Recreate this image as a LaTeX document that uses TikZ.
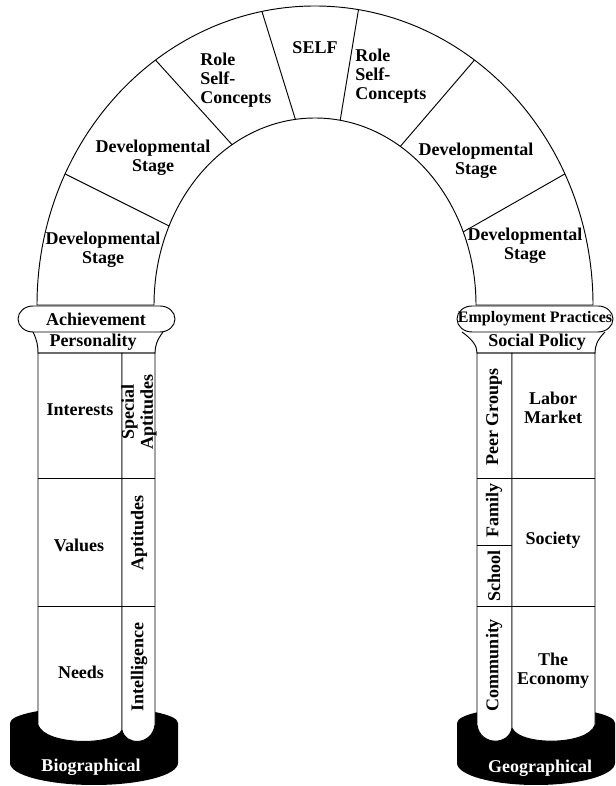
\documentclass[tikz,border=0pt]{standalone}
\usepackage{fontspec}
\setmainfont{Liberation Serif}
\usepackage{tikz}

\begin{document}
\begin{tikzpicture}[x=1pt,y=1pt,line width=0.95pt,
txt/.style={font=\bfseries\fontsize{18}{19}\selectfont,align=center,inner sep=0pt},
vtxt/.style={txt,rotate=90},
cell/.style={fill=white,draw=black}]
\useasboundingbox(0,0)rectangle(615,786);
\fill(10,63)arc[start angle=180,end angle=0,x radius=84,y radius=16]--(178,23)arc[start angle=0,end angle=-180,x radius=84,y radius=22]--cycle;
\fill(457,63)arc[start angle=180,end angle=0,x radius=79,y radius=16]--(615,23)arc[start angle=0,end angle=-180,x radius=79,y radius=22]--cycle;
\filldraw[cell](38,433)--(38,61)..controls(45,40)and(115,40)..(122,56)--(122,433)--cycle;
\filldraw[cell](122,433)--(122,56)..controls(125,40)and(152,40)..(155,61)--(155,433)--cycle;
\filldraw[cell](477,433)--(477,61)..controls(480,40)and(509,40)..(512,58)--(512,433)--cycle;
\filldraw[cell](512,433)--(512,58)..controls(519,40)and(588,40)..(595,61)--(595,433)--cycle;
\draw(38,308)--(155,308)(38,180)--(155,180);
\draw(477,308)--(595,308)(477,241)--(512,241)(477,180)--(595,180);
\draw(33,454)..controls(37,446)and(38,440)..(38,433)--(155,433)..controls(155,440)and(157,446)..(163,454);
\draw(462,454)..controls(473,446)and(477,440)..(477,433)--(595,433)..controls(595,440)and(597,446)..(605,454);
\draw(33,480)--(160,480)arc[start angle=90,end angle=-90,x radius=15,y radius=13]--(33,454)arc[start angle=270,end angle=90,x radius=15,y radius=13]--cycle;
\draw(472,480)--(598,480)arc[start angle=90,end angle=-90,x radius=15,y radius=13]--(472,454)arc[start angle=270,end angle=90,x radius=15,y radius=13]--cycle;
\begin{scope}[shift={(315,481)}]
\draw(-278,0)arc[start angle=180,end angle=0,x radius=278,y radius=299]--(161,0)arc[start angle=0,end angle=180,x radius=161,y radius=187]--cycle;
\draw(154:278 and 299)--(155:161 and 187)
(125:278 and 299)--(121:161 and 187)
(101:278 and 299)--(97:161 and 187)
(81:278 and 299)--(81:161 and 187)
(55:278 and 299)--(58:161 and 187)
(26:278 and 299)--(23:161 and 187);
\end{scope}
\node[txt](dev1)at(103,536){Developmental\\Stage};
\node[txt](dev2)at(153,628){Developmental\\Stage};
\node[txt,anchor=west,align=left](role1)at(200,706){Role\\Self-\\Concepts};
\node[txt](self)at(315,738){SELF};
\node[txt,anchor=west,align=left](role2)at(355,710){Role\\Self-\\Concepts};
\node[txt](dev3)at(476,625){Developmental\\Stage};
\node[txt](dev4)at(525,540){Developmental\\Stage};
\node[txt](achv)at(96,467){Achievement};
\node[txt,font=\bfseries\fontsize{16}{16}\selectfont](empl)at(535,467){Employment Practices};
\node[txt](pers)at(93,444){Personality};
\node[txt](socp)at(537,444){Social Policy};
\node[txt](intr)at(80,376){Interests};
\node[vtxt](spec)at(139,374){Special\\Aptitudes};
\node[txt](valu)at(79,241){Values};
\node[vtxt](apti)at(139,253){Aptitudes};
\node[txt](need)at(81,114){Needs};
\node[vtxt](intl)at(139,119){Intelligence};
\node[vtxt](peer)at(494,369){Peer Groups};
\node[txt](labr)at(553,378){Labor\\Market};
\node[vtxt](fami)at(494,275){Family};
\node[vtxt](schl)at(494,210){School};
\node[txt](socy)at(553,246){Society};
\node[vtxt](comm)at(494,121){Community};
\node[txt](econ)at(553,115){The\\Economy};
\node[txt,text=white](biog)at(91,19){Biographical};
\node[txt,text=white](geog)at(540,18){Geographical};
\end{tikzpicture}
\end{document}
